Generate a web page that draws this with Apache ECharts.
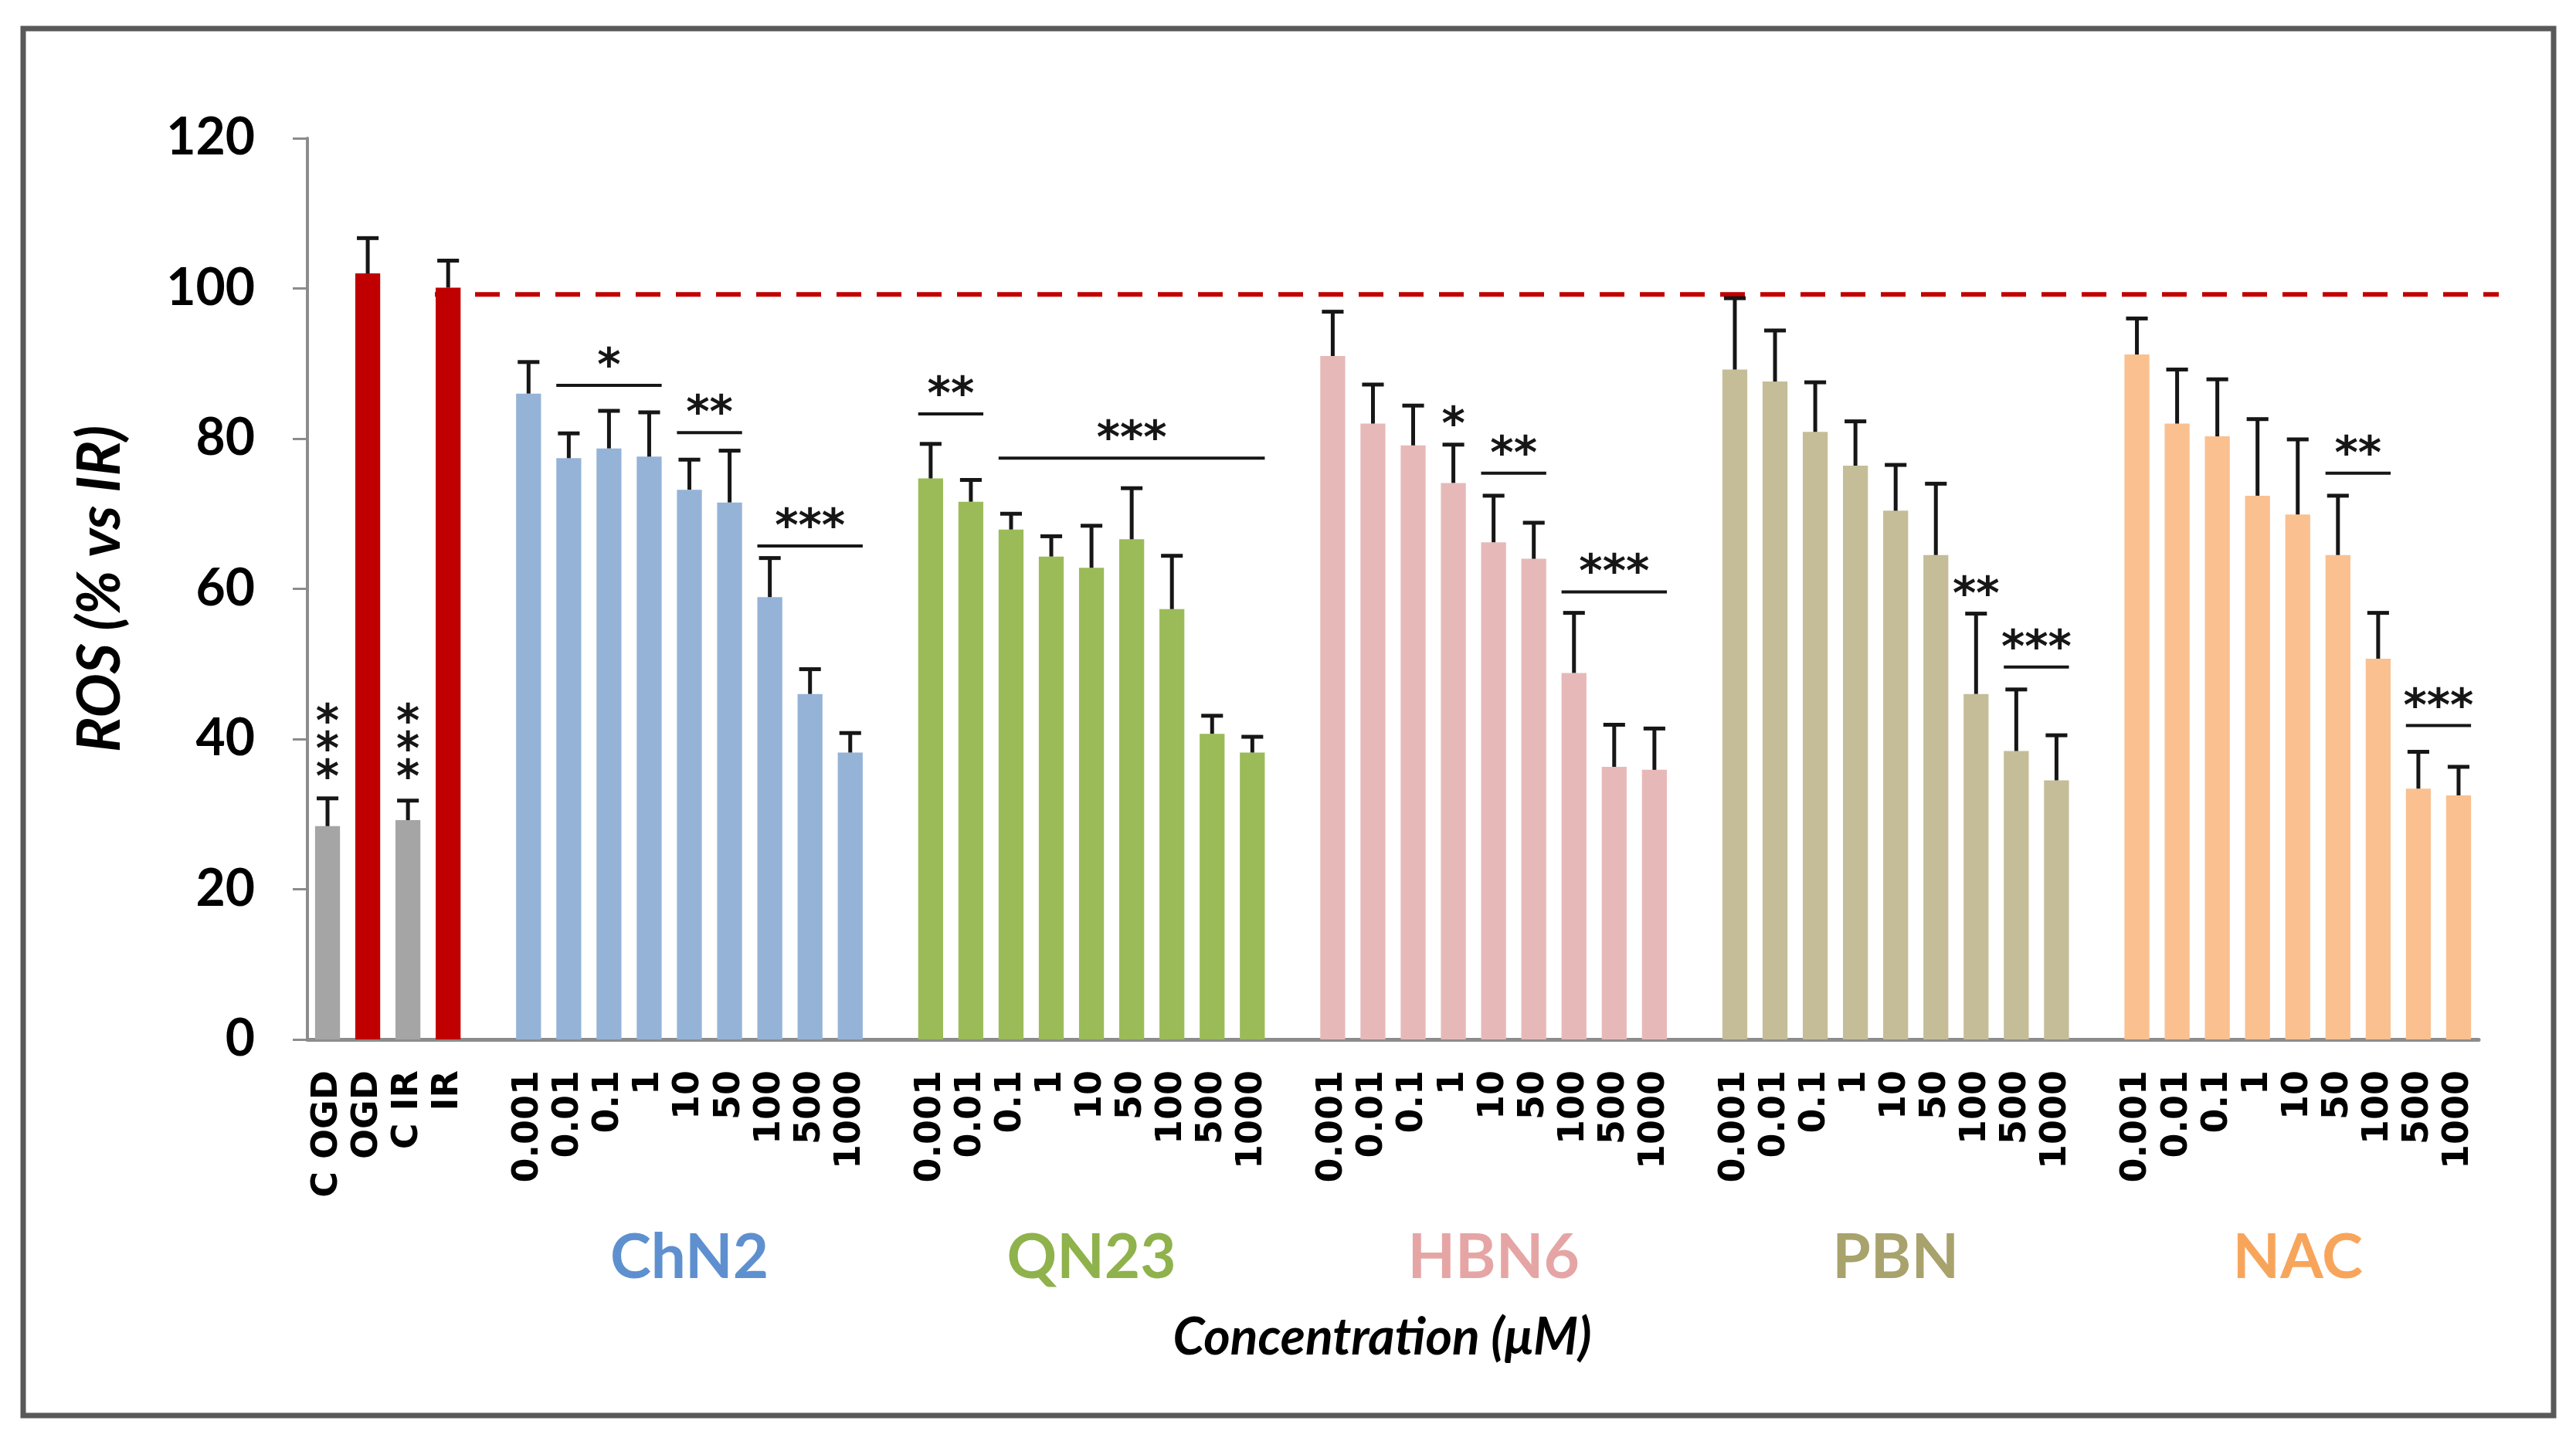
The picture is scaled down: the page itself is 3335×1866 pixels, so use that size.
<!DOCTYPE html>
<html><head><meta charset="utf-8">
<script src="https://cdn.jsdelivr.net/npm/echarts@6/dist/echarts.min.js"></script>
<style>html,body{margin:0;padding:0;background:#fff}#c{width:3335px;height:1866px}</style>
</head><body><div id="c"></div>
<script>
// ---------------- data ----------------
const controlLabels = ['C OGD', 'OGD', 'C IR', 'IR'];
const controlValues = [28.4, 102.0, 29.2, 100.1];
const controlErrors = [3.7, 4.7, 2.6, 3.6];
const concLabels = ['0.001', '0.01', '0.1', '1', '10', '50', '100', '500', '1000'];
const groupNames = ['ChN2', 'QN23', 'HBN6', 'PBN', 'NAC'];
const chn2Values = [86.0, 77.4, 78.7, 77.6, 73.2, 71.5, 58.9, 46.0, 38.2];
const chn2Errors = [4.2, 3.3, 5.0, 5.9, 4.0, 6.9, 5.2, 3.3, 2.6];
const qn23Values = [74.7, 71.6, 67.9, 64.3, 62.8, 66.6, 57.3, 40.7, 38.2];
const qn23Errors = [4.6, 2.9, 2.1, 2.7, 5.6, 6.8, 7.1, 2.4, 2.1];
const hbn6Values = [91.0, 82.0, 79.1, 74.1, 66.2, 64.0, 48.8, 36.3, 35.9];
const hbn6Errors = [5.9, 5.2, 5.3, 5.1, 6.2, 4.8, 8.0, 5.6, 5.5];
const pbnValues = [89.2, 87.6, 80.9, 76.4, 70.4, 64.5, 46.0, 38.4, 34.5];
const pbnErrors = [9.5, 6.8, 6.6, 5.9, 6.1, 9.5, 10.7, 8.2, 6.0];
const nacValues = [91.2, 82.0, 80.3, 72.4, 69.9, 64.5, 50.7, 33.4, 32.5];
const nacErrors = [4.8, 7.2, 7.6, 10.2, 10.0, 7.9, 6.1, 4.9, 3.8];
const irReference = 99.2;
// significance brackets: [group, first concentration index, last concentration index, level, mark]
const brackets = [
  ['ChN2', 1, 3, 87.1, '*'], ['ChN2', 4, 5, 80.8, '**'], ['ChN2', 6, 8, 65.7, '***'],
  ['QN23', 0, 1, 83.3, '**'], ['QN23', 2, 8, 77.4, '***'],
  ['HBN6', 4, 5, 75.4, '**'], ['HBN6', 6, 8, 59.6, '***'],
  ['PBN', 7, 8, 49.6, '***'],
  ['NAC', 5, 6, 75.4, '**'], ['NAC', 7, 8, 41.8, '***']
];
// single marks above bars: [group, concentration index, level, mark]
const singleMarks = [['HBN6', 3, 82.8, '*'], ['PBN', 6, 60.2, '**']];
// stacked marks above control bars: [control label, level of middle mark, mark count]
const controlMarks = [['C OGD', 39.5, 3], ['C IR', 39.5, 3]];

// ---------------- styles ----------------
const controlColors = ['#a5a5a5', '#c00000', '#a5a5a5', '#c00000'];
const groupColors = ['#95b3d7', '#9bbb59', '#e6b9b8', '#c4bd97', '#fac090'];
const groupTextColors = ['#5e90cf', '#8fb24c', '#e6a5a5', '#a8a26c', '#f8a55c'];
const groupValues = [chn2Values, qn23Values, hbn6Values, pbnValues, nacValues];
const groupErrors = [chn2Errors, qn23Errors, hbn6Errors, pbnErrors, nacErrors];

// ---------------- build ----------------
const categories = controlLabels.slice();
const barData = [];
const errData = [];
controlValues.forEach((v, i) => {
  barData.push({ value: v, itemStyle: { color: controlColors[i] } });
  errData.push([i, v, controlErrors[i]]);
});
const groupStart = {};
const groupCenters = [];
groupNames.forEach((g, gi) => {
  categories.push('');
  barData.push('-');
  groupStart[g] = categories.length;
  concLabels.forEach((c, ci) => {
    const idx = categories.length;
    categories.push(c);
    const v = groupValues[gi][ci];
    barData.push({ value: v, itemStyle: { color: groupColors[gi] } });
    errData.push([idx, v, groupErrors[gi][ci]]);
  });
  groupCenters.push([groupStart[g] + (concLabels.length - 1) / 2, 0, gi]);
});
const bracketData = brackets.map(b => [groupStart[b[0]] + b[1], b[3], groupStart[b[0]] + b[2]]);
const bracketText = brackets.map(b => b[4]);
const singleData = singleMarks.map(s => [groupStart[s[0]] + s[1], s[2]]);
const singleText = singleMarks.map(s => s[3]);
const controlMarkData = controlMarks.map(c => [controlLabels.indexOf(c[0]), c[1], c[2]]);
const irIndex = controlLabels.indexOf('IR');
const refData = [[irIndex, irReference, categories.length - 1]];

const INK = '#161616';
const STAR_FONT = { fontFamily: 'DejaVu Sans', fontWeight: 'bold', fontSize: 58, fill: INK };

const chart = echarts.init(document.getElementById('c'));
chart.setOption({
  animation: false,
  backgroundColor: '#ffffff',
  grid: { left: 398, right: 126, top: 179, bottom: 520 },
  graphic: [{
    type: 'rect', shape: { x: 30, y: 37, width: 3276, height: 1796 },
    style: { fill: 'none', stroke: '#595959', lineWidth: 7 }, silent: true
  }],
  xAxis: {
    type: 'category', data: categories,
    axisLine: { lineStyle: { color: '#8c8c8c', width: 5 } },
    axisTick: { length: 17, interval: 0, lineStyle: { color: '#8c8c8c', width: 3 } },
    axisLabel: {
      interval: 0, rotate: 90, margin: 40, color: '#000',
      fontFamily: 'DejaVu Sans', fontWeight: 'bold', fontSize: 46
    },
    name: 'Concentration (μM)', nameLocation: 'middle', nameGap: 387,
    nameTextStyle: { fontFamily: 'Lato', fontStyle: 'italic', fontWeight: 'bold', fontSize: 66, color: '#000', verticalAlign: 'middle', padding: [0, 28, 0, 0] }
  },
  yAxis: {
    type: 'value', min: 0, max: 120, interval: 20,
    axisLine: { show: true, lineStyle: { color: '#8c8c8c', width: 4 } },
    axisTick: { show: true, length: 19, lineStyle: { color: '#8c8c8c', width: 3 } },
    splitLine: { show: false },
    axisLabel: { margin: 68, color: '#000', fontFamily: 'Lato', fontWeight: 'bold', fontSize: 66 },
    name: 'ROS (% vs IR)', nameLocation: 'middle', nameGap: 268,
    nameTextStyle: { fontFamily: 'Lato', fontStyle: 'italic', fontWeight: 'bold', fontSize: 76, color: '#000', verticalAlign: 'middle' }
  },
  series: [
    {
      type: 'bar', data: barData, barWidth: '62%', z: 2
    },
    {
      type: 'custom', data: refData, clip: false, z: 3,
      renderItem: function (params, api) {
        const band = api.size([1, 0])[0];
        const a = api.coord([api.value(0), api.value(1)]);
        const b = api.coord([api.value(2), api.value(1)]);
        return {
          type: 'line',
          shape: { x1: a[0] - band * 0.33, y1: a[1], x2: b[0] + band, y2: b[1] },
          style: { stroke: '#c00000', lineWidth: 6, lineDash: [32, 20] }
        };
      }
    },
    {
      type: 'custom', data: errData, clip: false, z: 4,
      renderItem: function (params, api) {
        const band = api.size([1, 0])[0];
        const x = api.value(0), v = api.value(1), e = api.value(2);
        const p0 = api.coord([x, v]);
        const p1 = api.coord([x, v + e]);
        const cap = band * 0.27;
        return {
          type: 'group', children: [
            { type: 'line', shape: { x1: p0[0], y1: p0[1], x2: p1[0], y2: p1[1] }, style: { stroke: INK, lineWidth: 5 } },
            { type: 'line', shape: { x1: p1[0] - cap, y1: p1[1], x2: p1[0] + cap, y2: p1[1] }, style: { stroke: INK, lineWidth: 5 } }
          ]
        };
      }
    },
    {
      type: 'custom', data: bracketData, clip: false, z: 4,
      renderItem: function (params, api) {
        const band = api.size([1, 0])[0];
        const a = api.coord([api.value(0), api.value(1)]);
        const b = api.coord([api.value(2), api.value(1)]);
        const x1 = a[0] - band * 0.31, x2 = b[0] + band * 0.31;
        return {
          type: 'group', children: [
            { type: 'line', shape: { x1: x1, y1: a[1], x2: x2, y2: a[1] }, style: { stroke: INK, lineWidth: 4 } },
            { type: 'text', x: (x1 + x2) / 2, y: a[1] - 22,
              style: Object.assign({ text: bracketText[params.dataIndex], align: 'center', verticalAlign: 'middle' }, STAR_FONT) }
          ]
        };
      }
    },
    {
      type: 'custom', data: singleData, clip: false, z: 4,
      renderItem: function (params, api) {
        const p = api.coord([api.value(0), api.value(1)]);
        return { type: 'text', x: p[0], y: p[1] + 12,
          style: Object.assign({ text: singleText[params.dataIndex], align: 'center', verticalAlign: 'middle' }, STAR_FONT) };
      }
    },
    {
      type: 'custom', data: controlMarkData, clip: false, z: 4,
      renderItem: function (params, api) {
        const p = api.coord([api.value(0), api.value(1)]);
        const n = api.value(2);
        const step = api.coord([0, 0])[1] - api.coord([0, 3.7])[1];
        const kids = [];
        for (let k = 0; k < n; k++) {
          kids.push({ type: 'text', x: p[0], y: p[1] + (k - (n - 1) / 2) * step + 12,
            style: Object.assign({ text: '*', align: 'center', verticalAlign: 'middle' }, STAR_FONT) });
        }
        return { type: 'group', children: kids };
      }
    },
    {
      type: 'custom', data: groupCenters, clip: false, z: 4,
      renderItem: function (params, api) {
        const p = api.coord([api.value(0), 0]);
        const gi = api.value(2);
        return { type: 'text', x: p[0], y: p[1] + 283,
          style: { text: groupNames[gi], align: 'center', verticalAlign: 'middle',
            fontFamily: 'Lato', fontWeight: 'bold', fontSize: 80, fill: groupTextColors[gi] } };
      }
    }
  ]
});
</script></body></html>
